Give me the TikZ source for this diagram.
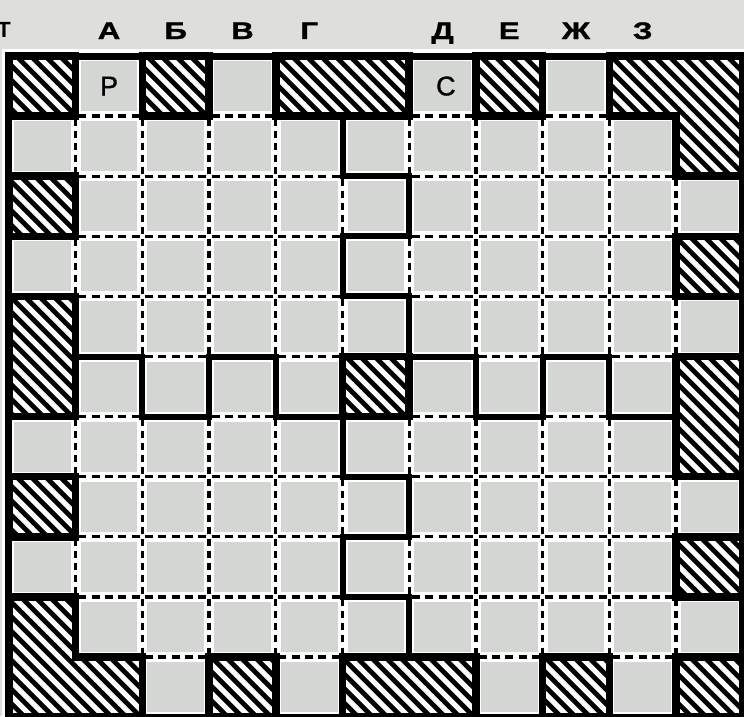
\documentclass[tikz,border=0pt]{standalone}
\usepackage{fontspec}
\setmainfont{Liberation Sans}
\newfontfamily\labelfont{Liberation Sans Bold}[FakeStretch=1.3,FakeBold=1.2]
\newfontfamily\cellfont{Liberation Sans}[FakeBold=1.2]
\definecolor{pagebg}{RGB}{222,222,218}
\definecolor{cellgrey}{RGB}{212,214,211}
\newcommand\hatchregions{(0,0) rectangle (1,1) (2,0) rectangle (3,1) (4,0) rectangle (6,1) (7,0) rectangle (8,1)
 (9,0) -- (11,0) -- (11,2) -- (10,2) -- (10,1) -- (9,1) -- cycle
 (0,2) rectangle (1,3) (0,4) rectangle (1,6) (0,7) rectangle (1,8)
 (0,9) -- (1,9) -- (1,10) -- (2,10) -- (2,11) -- (0,11) -- cycle
 (3,10) rectangle (4,11) (5,10) rectangle (7,11) (8,10) rectangle (9,11) (10,10) rectangle (11,11)
 (10,3) rectangle (11,4) (10,5) rectangle (11,7) (10,8) rectangle (11,9) (5,5) rectangle (6,6)}
\begin{document}
\begin{tikzpicture}[x=66.7pt,y=-60.1pt,
  wallline/.style={line width=6pt, black, line join=miter, line cap=rect},
  hatchedge/.style={line width=7.5pt, black, line join=miter},
  stripe/.style={line width=5.2pt, white},
  hdash/.style={line width=3.3pt, black, dash pattern=on 8pt off 5.34pt, dash phase=10.67pt},
  vdash/.style={line width=3.3pt, black, dash pattern=on 7pt off 5.02pt, dash phase=9.51pt},
  collabel/.style={font=\labelfont\fontsize{24}{24}\selectfont, inner sep=0pt, anchor=base},
  celltext/.style={font=\cellfont\fontsize{27}{27}\selectfont, inner sep=0pt}
]
\useasboundingbox (-9pt,56pt) rectangle (735pt,-660pt);
\fill[pagebg] (-9pt,56pt) rectangle (735pt,-660pt);
\fill[white] ([xshift=-7pt,yshift=7pt]0,0) rectangle ([xshift=7pt,yshift=-7pt]11,11);
% light cells
\foreach \i in {0,...,10}{
  \foreach \j in {0,...,10}{
    \fill[cellgrey] ([xshift=5pt,yshift=-5pt]\i,\j) rectangle ([xshift=-5pt,yshift=5pt]\i+1,\j+1);
  }
}
% dashed cell borders
\foreach \i in {0,...,10}{
  \foreach \j in {1,...,10}{
    \draw[hdash] (\i,\j) -- (\i+1,\j);
  }
}
\foreach \i in {1,...,10}{
  \foreach \j in {0,...,10}{
    \draw[vdash] (\i,\j) -- (\i,\j+1);
  }
}
% thick walls
\draw[wallline] (5,1) -- (5,2) -- (6,2) -- (6,3) -- (5,3) -- (5,4) -- (6,4) -- (6,5);
\draw[wallline] (5,6) -- (5,7) -- (6,7) -- (6,8) -- (5,8) -- (5,9) -- (6,9) -- (6,10);
\draw[wallline] (1,5) -- (2,5) -- (2,6) -- (3,6) -- (3,5) -- (4,5) -- (4,6) -- (5,6);
\draw[wallline] (6,5) -- (7,5) -- (7,6) -- (8,6) -- (8,5) -- (9,5) -- (9,6) -- (10,6);
% hatched cells
\fill[black] \hatchregions;
\begin{scope}
  \clip \hatchregions;
  \foreach \k in {-48,...,52}{
    \draw[stripe] (\k*14.5pt-800pt,800pt) -- ++(1600pt,-1600pt);
  }
\end{scope}
\draw[hatchedge] \hatchregions;
% outer frame
\draw[line width=7pt, black] (0,0) rectangle (11,11);
% labels
\foreach \c/\t in {1/А,2/Б,3/В,4/Г,6/Д,7/Е,8/Ж,9/З}{
  \node[collabel] (lab\c) at ([yshift=17pt]\c+0.5,0) {\t};
}
\node[font=\bfseries\fontsize{22}{22}\selectfont, inner sep=0pt, anchor=base] (edgeT) at (-5pt,19pt) {Т};
\node[celltext] (cellR) at (1.5,0.5) {Р};
\node[celltext] (cellS) at (6.55,0.5) {С};
\end{tikzpicture}
\end{document}
